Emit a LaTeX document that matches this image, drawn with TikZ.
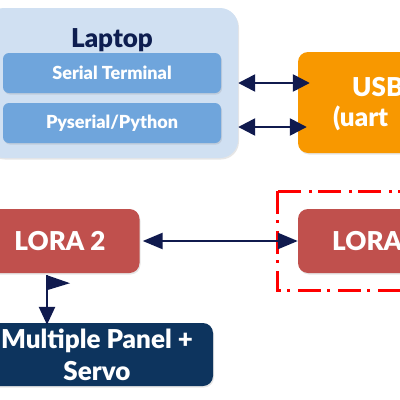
\documentclass[tikz,border=0pt]{standalone}
\usepackage{fontspec}
\setmainfont{Lato}[BoldFont={Lato Black}]
\usetikzlibrary{arrows.meta,shadows}
\definecolor{paleblue}{RGB}{208,224,242}
\definecolor{midblue}{RGB}{111,165,220}
\definecolor{navytext}{RGB}{14,30,80}
\definecolor{usborange}{RGB}{248,152,0}
\definecolor{lorared}{RGB}{192,80,77}
\definecolor{navybox}{RGB}{13,52,94}
\definecolor{linkcol}{RGB}{16,26,78}
\tikzset{
  block/.style={rounded corners=10pt, text=white, font=\bfseries\fontsize{26}{30}\selectfont,
    drop shadow={opacity=0.2, shadow xshift=1pt, shadow yshift=-1.5pt}},
  sub/.style={block, fill=midblue, rounded corners=6pt, minimum width=218pt, minimum height=40pt,
    font=\bfseries\fontsize{18}{21}\selectfont},
  link/.style={linkcol, line width=2.5pt, {Triangle[length=17pt,width=17pt]}-{Triangle[length=17pt,width=17pt]}}
}
\begin{document}
\begin{tikzpicture}[x=1pt,y=-1pt]
\useasboundingbox (0,0) rectangle (400,400);
\clip (0,0) rectangle (400,400);
\node[block, fill=paleblue, rounded corners=18pt, minimum width=252pt, minimum height=150pt] (laptop) at (112,83) {};
\node[text=navytext, font=\bfseries\fontsize{26}{30}\selectfont] (laptoptitle) at (112,40) {Laptop};
\node[sub] (serial) at (112,73) {Serial Terminal};
\node[sub] (pyserial) at (112,123) {Pyserial/Python};
\node[block, fill=usborange, minimum width=164pt, minimum height=101pt] (usb) at (380,102.5) {};
\node[text=white, font=\bfseries\fontsize{26}{30}\selectfont, anchor=base west, inner sep=0pt] (usbtop) at (352,96) {USB};
\node[text=white, font=\bfseries\fontsize{26}{30}\selectfont, anchor=base west, inner sep=0pt] (usbbottom) at (333,126) {(uart};
\draw[red, line width=3pt, dash pattern=on 23pt off 6pt on 3pt off 8pt] (277,191) rectangle (470,290);
\node[block, fill=lorared, minimum width=159pt, minimum height=64pt] (lora2) at (60,241) {LORA 2};
\node[block, fill=lorared, minimum width=159pt, minimum height=64pt] (lora1) at (377.5,241) {};
\node[text=white, font=\bfseries\fontsize{26}{30}\selectfont, anchor=base west, inner sep=0pt] (loratext) at (332,250) {LORA};
\node[block, fill=navybox, minimum width=232pt, minimum height=63pt, align=center,
  font=\bfseries\fontsize{26}{32}\selectfont] (servo) at (97,354.5) {Multiple Panel +\\Servo};
\draw[link, shorten >=-12pt] (laptop.east) -- (laptop.east -| usb.west);
\draw[link, shorten >=-9pt] ([yshift=-44pt]laptop.east) -- ([yshift=-44pt]laptop.east -| usb.west);
\draw[link, shorten <=3pt, {Triangle[length=20pt,width=16pt]}-{Triangle[length=20pt,width=16pt]}] (lora2.east) -- (lora1.west);
\draw[linkcol, line width=2.5pt, -{Triangle[length=18pt,width=16pt]}] ([xshift=-13pt,yshift=-2pt]lora2.south) -- ([xshift=-13pt,yshift=-2pt]lora2.south |- servo.north);
\fill[linkcol] ([xshift=-13pt,yshift=-2pt]lora2.south) -- ++(23,8) -- ++(-23,7) -- cycle;
\end{tikzpicture}
\end{document}
